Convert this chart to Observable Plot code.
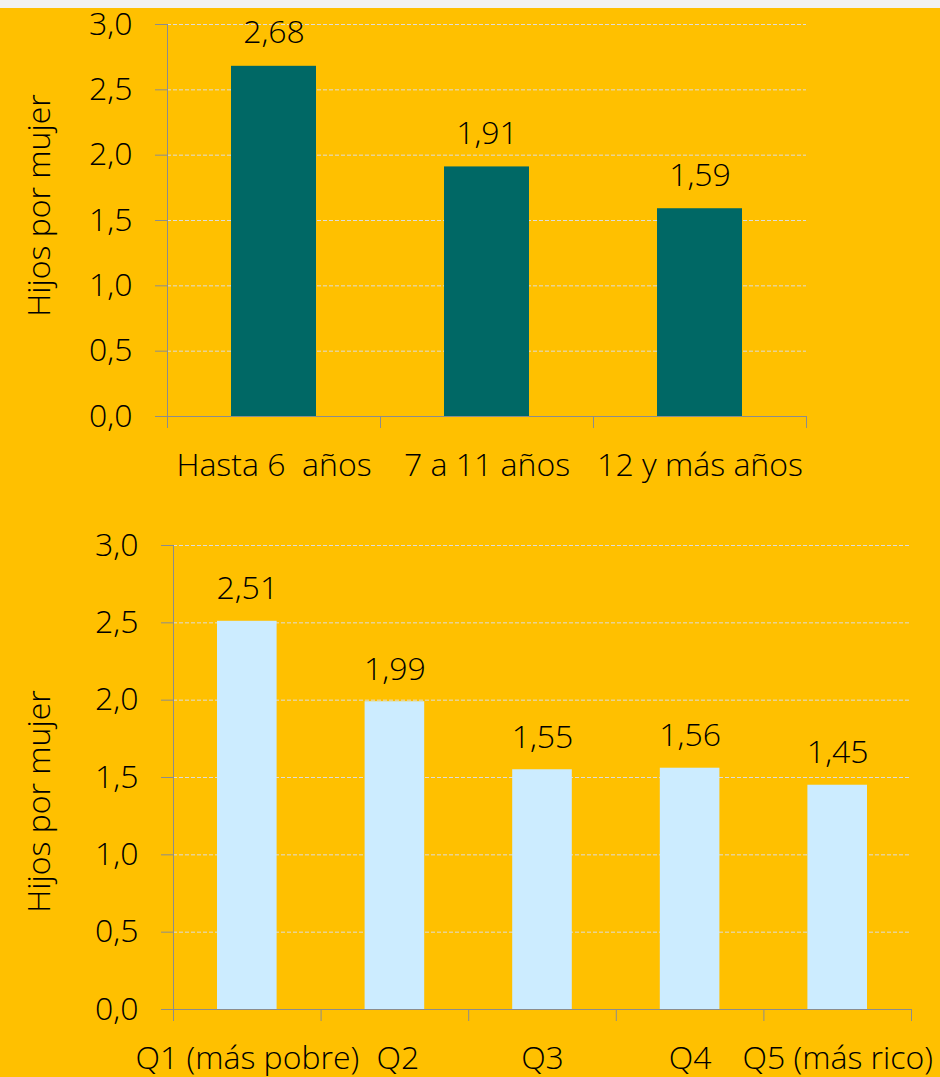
<!DOCTYPE html>
<html>
<head>
<meta charset="utf-8">
<script src="https://cdn.jsdelivr.net/npm/d3@7"></script>
<script src="https://cdn.jsdelivr.net/npm/@observablehq/plot@0.6"></script>
<style>
  html, body { margin: 0; padding: 0; background: #f2f2f2; }
  #wrap { position: absolute; top: 8px; left: 0; width: 940px; height: 1069px; background: #FFC000; }
  #wrap svg { display: block; }
  svg text { white-space: pre; }
</style>
</head>
<body>
<div id="wrap"></div>
<script>
const educCategories = ["Hasta 6  años", "7 a 11 años", "12 y más años"];
const educValues = [2.68, 1.91, 1.59];
const quintCategories = ["Q1 (más pobre)", "Q2", "Q3", "Q4", "Q5 (más rico)"];
const quintValues = [2.51, 1.99, 1.55, 1.56, 1.45];
const yTicks = [0, 0.5, 1.0, 1.5, 2.0, 2.5, 3.0];
const yLabel = "Hijos por mujer";

const fmt = d => d.toFixed(1).replace(".", ",");
const fmt2 = d => d.toFixed(2).replace(".", ",");
const axisColor = "#8c8c8c";
const font = "'Open Sans', sans-serif";
const fs = 32;

function chart(cats, vals, o) {
  const data = cats.map((c, i) => ({i, c, v: vals[i]}));
  const n = cats.length;
  return Plot.plot({
    width: 940,
    height: o.height,
    marginTop: o.mt, marginBottom: o.mb, marginLeft: o.ml, marginRight: o.mr,
    style: {fontFamily: font, fontSize: fs + "px", fontWeight: 300, background: "transparent", overflow: "visible", color: "#000"},
    x: {type: "linear", domain: [0, n], axis: null},
    y: {domain: [0, 3], axis: null},
    marks: [
      Plot.gridY(yTicks.filter(d => d > 0), {stroke: "#dcdcdc", strokeOpacity: 1, strokeDasharray: "4,2"}),
      Plot.rectY(data, {x1: d => d.i, x2: d => d.i + 1, y: "v", fill: o.fill, insetLeft: o.inset, insetRight: o.inset}),
      Plot.ruleX([0], {stroke: axisColor, strokeWidth: 1}),
      Plot.ruleY([0], {stroke: axisColor, strokeWidth: 1}),
      Plot.axisY({ticks: yTicks, tickFormat: fmt, tickSize: 12, tickPadding: 23, stroke: axisColor, fill: "#000", label: null, fontSize: fs}),
      Plot.axisX({ticks: d3.range(n + 1), tickFormat: () => "", tickSize: 12, stroke: axisColor, label: null}),
      Plot.text(data, {x: d => d.i + 0.5, y: "v", text: d => fmt2(d.v), lineAnchor: "bottom", dy: o.vdy, fill: "#000", fontSize: fs}),
      Plot.text(data, {x: d => d.i + 0.5 + (o.lx ? o.lx[d.i] : 0), frameAnchor: "bottom", text: "c", lineAnchor: "bottom", dy: o.cdy, fill: "#000", fontSize: fs}),
      Plot.text([yLabel], {frameAnchor: "left", text: d => d, rotate: -90, textAnchor: "middle", lineAnchor: "middle", dx: 39 - o.ml, dy: o.ldy, fill: "#000", fontSize: fs})
    ]
  });
}

const wrap = document.getElementById("wrap");
wrap.appendChild(chart(educCategories, educValues, {
  height: 490, mt: 16, mb: 82, ml: 167, mr: 134,
  fill: "#006865", inset: 64, vdy: -23, cdy: 59, ldy: -15
}));
wrap.appendChild(chart(quintCategories, quintValues, {
  height: 579, mt: 47, mb: 68, ml: 173, mr: 29,
  fill: "#CCECFF", inset: 44, vdy: -22, cdy: 59, ldy: 24, lx: [0, 0.02, 0, 0, 0]
}));
</script>
</body>
</html>
